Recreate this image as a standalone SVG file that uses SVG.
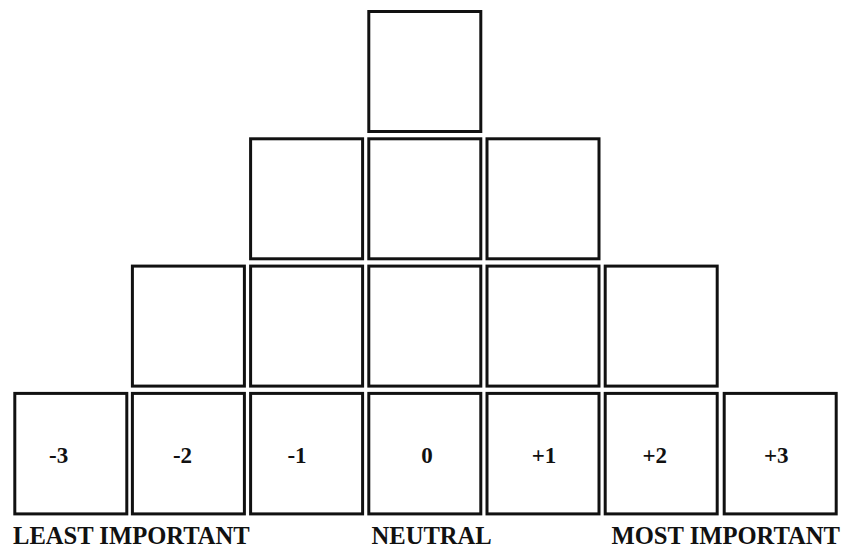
<svg xmlns="http://www.w3.org/2000/svg" width="851" height="548" viewBox="0 0 851 548">
<style>
.box{fill:#fff;stroke:#111;stroke-width:3}
.num{font-family:"Liberation Serif","Times New Roman",serif;font-weight:bold;font-size:23px;text-anchor:middle;fill:#111}
.lbl{font-family:"Liberation Serif","Times New Roman",serif;font-weight:bold;font-size:24.6px;fill:#111}
</style>
<rect width="851" height="548" fill="#fff"/>
<g id="r0c3"><rect class="box" x="368.8" y="11.5" width="112" height="120"/></g>
<g id="r1c2"><rect class="box" x="250.6" y="138.8" width="112" height="120"/></g>
<g id="r1c3"><rect class="box" x="368.8" y="138.8" width="112" height="120"/></g>
<g id="r1c4"><rect class="box" x="487" y="138.8" width="112" height="120"/></g>
<g id="r2c1"><rect class="box" x="132.4" y="266.1" width="112" height="120"/></g>
<g id="r2c2"><rect class="box" x="250.6" y="266.1" width="112" height="120"/></g>
<g id="r2c3"><rect class="box" x="368.8" y="266.1" width="112" height="120"/></g>
<g id="r2c4"><rect class="box" x="487" y="266.1" width="112" height="120"/></g>
<g id="r2c5"><rect class="box" x="605.2" y="266.1" width="112" height="120"/></g>
<g id="m3"><rect class="box" x="14.8" y="393.4" width="112" height="120.5"/><text class="num" x="58.7" y="463">-3</text></g>
<g id="m2"><rect class="box" x="132.4" y="393.4" width="112" height="120.5"/><text class="num" x="182.5" y="463">-2</text></g>
<g id="m1"><rect class="box" x="250.6" y="393.4" width="112" height="120.5"/><text class="num" x="297" y="463">-1</text></g>
<g id="z0"><rect class="box" x="368.8" y="393.4" width="112" height="120.5"/><text class="num" x="427" y="463">0</text></g>
<g id="p1"><rect class="box" x="487" y="393.4" width="112" height="120.5"/><text class="num" x="544" y="463">+1</text></g>
<g id="p2"><rect class="box" x="605.2" y="393.4" width="112" height="120.5"/><text class="num" x="654.7" y="463">+2</text></g>
<g id="p3"><rect class="box" x="724.2" y="393.4" width="112" height="120.5"/><text class="num" x="776.3" y="463">+3</text></g>
<g id="labels">
<text class="lbl" x="13" y="544">LEAST IMPORTANT</text>
<text class="lbl" x="371.5" y="544">NEUTRAL</text>
<text class="lbl" x="611.5" y="544">MOST IMPORTANT</text>
</g>
<g id="connectors"></g>
</svg>
